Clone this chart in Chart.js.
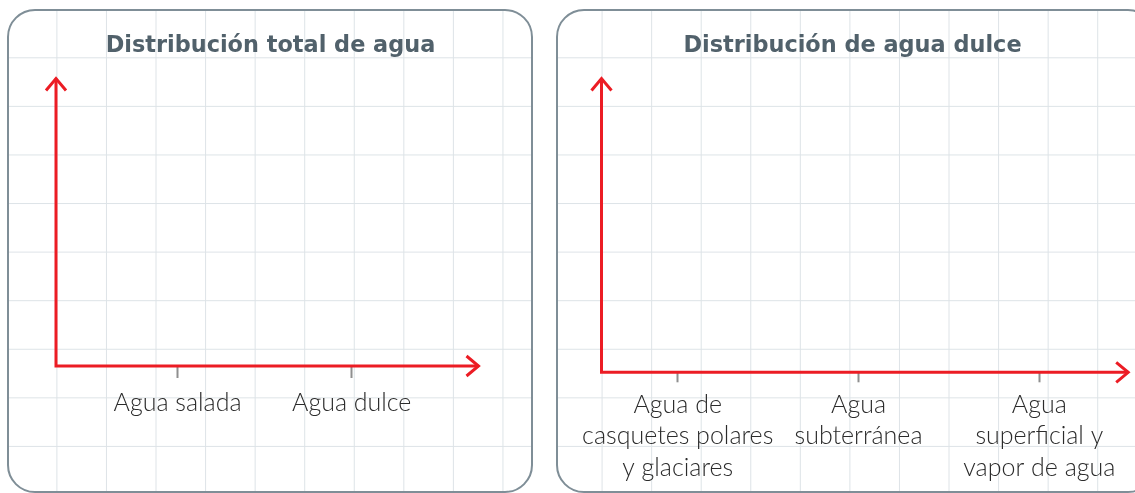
<!DOCTYPE html>
<html lang="es">
<head>
<meta charset="utf-8">
<script src="https://cdn.jsdelivr.net/npm/chart.js@4.4.0/dist/chart.umd.min.js"></script>
<style>
  html, body { margin: 0; padding: 0; width: 1135px; height: 493px; overflow: hidden; background: #fff; }
  .panel {
    position: absolute; box-sizing: border-box;
    border: 2px solid #7f8e97; border-radius: 28px;
    background-color: #fff;
    background-image: linear-gradient(to right, #dde3e7 1px, transparent 1px),
                      linear-gradient(to bottom, #dde3e7 1px, transparent 1px);
    background-size: 49.565px 48.58px;
    background-attachment: fixed;
    background-position: 56.4px 57.3px;
  }
  #panel1 { left: 7px; top: 9px; width: 526px; height: 484px; }
  #panel2 { left: 556px; top: 9px; width: 600px; height: 484px; }
  canvas { position: absolute; top: 0; }
  #chart1 { left: 0; }
  #chart2 { left: 557px; }
</style>
</head>
<body>
<div class="panel" id="panel1"></div>
<div class="panel" id="panel2"></div>
<canvas id="chart1" width="541" height="493"></canvas>
<canvas id="chart2" width="591" height="493"></canvas>
<script>
// titulos
const tituloTotal = 'Distribución total de agua';
const tituloDulce = 'Distribución de agua dulce';

// categorias (rótulos del eje x)
const categoriasTotal = ['Agua salada', 'Agua dulce'];
const categoriasDulce = [
    ['Agua de', 'casquetes polares', 'y glaciares'],
    ['Agua', 'subterránea'],
    ['Agua', 'superficial y', 'vapor de agua']
];

// valores: la plantilla está vacía, sin barras
const valoresTotal = [null, null];
const valoresDulce = [null, null, null];

// ejes rojos con flecha
const ejesConFlecha = {
    id: 'ejesConFlecha',
    afterDraw(chart, args, opts) {
        const ctx = chart.ctx;
        const a = chart.chartArea;
        const x0 = a.left + opts.yOffset;
        const x1 = a.right + opts.extra;
        const yb = a.bottom, yt = a.top;
        ctx.save();
        ctx.strokeStyle = opts.color;
        ctx.lineWidth = opts.width;
        ctx.lineJoin = 'miter';
        ctx.beginPath();
        ctx.moveTo(x0, yt);
        ctx.lineTo(x0, yb);
        ctx.lineTo(x1, yb);
        ctx.stroke();
        ctx.beginPath();
        ctx.moveTo(x0 - opts.headW, yt + opts.headL);
        ctx.lineTo(x0, yt);
        ctx.lineTo(x0 + opts.headW, yt + opts.headL);
        ctx.moveTo(x1 - opts.headL, yb - opts.headW);
        ctx.lineTo(x1, yb);
        ctx.lineTo(x1 - opts.headL, yb + opts.headW);
        ctx.stroke();
        ctx.restore();
    }
};

// eje y invisible que solo reserva espacio
function ejeVacio(pos, ancho, extra) {
    return Object.assign({
        position: pos,
        display: true,
        ticks: { display: false },
        grid: { display: false },
        border: { display: false },
        afterFit(scale) { scale.width = ancho; }
    }, extra || {});
}

function crearGrafico(id, titulo, categorias, valores, cfg) {
    const ctx = document.getElementById(id).getContext('2d');
    return new Chart(ctx, {
        type: 'bar',
        data: {
            labels: categorias,
            datasets: [{ label: '', data: valores, backgroundColor: '#4a90c8' }]
        },
        plugins: [ejesConFlecha],
        options: {
            responsive: false,
            animation: false,
            devicePixelRatio: 1,
            layout: { padding: 0 },
            plugins: {
                legend: { display: false },
                tooltip: { enabled: false },
                title: {
                    display: true,
                    text: titulo,
                    color: '#51616b',
                    font: { family: '"DejaVu Sans"', weight: 'bold', size: 22.4, lineHeight: 1.2 },
                    padding: { top: 33, bottom: 18.6 }
                },
                ejesConFlecha: {
                    color: '#ec1c24', width: 3, headW: 10, headL: 12,
                    yOffset: cfg.yOffset, extra: cfg.extra
                }
            },
            scales: {
                x: {
                    offset: true,
                    border: { display: false },
                    grid: {
                        offset: false, drawOnChartArea: false, drawTicks: true,
                        tickLength: cfg.tick, tickColor: '#8f8f8f', tickWidth: 2
                    },
                    ticks: {
                        color: '#2b2b2b', maxRotation: 0, autoSkip: false, padding: cfg.pad,
                        font: { family: 'Lato', weight: 300, size: 25, lineHeight: 1.26 }
                    },
                    afterFit(scale) { scale.height = cfg.axisH; }
                },
                y: ejeVacio('left', cfg.left, { min: 0, max: 100 }),
                y2: ejeVacio('right', cfg.right)
            }
        }
    });
}

crearGrafico('chart1', tituloTotal, categoriasTotal, valoresTotal,
    { left: 90.4, right: 102.2, yOffset: -34.4, extra: 39.7, tick: 12, pad: 9.5, axisH: 127 });
crearGrafico('chart2', tituloDulce, categoriasDulce, valoresDulce,
    { left: 30.3, right: 18.3, yOffset: 14.2, extra: -1.5, tick: 10, pad: 6.5, axisH: 120.7 });
</script>
</body>
</html>
